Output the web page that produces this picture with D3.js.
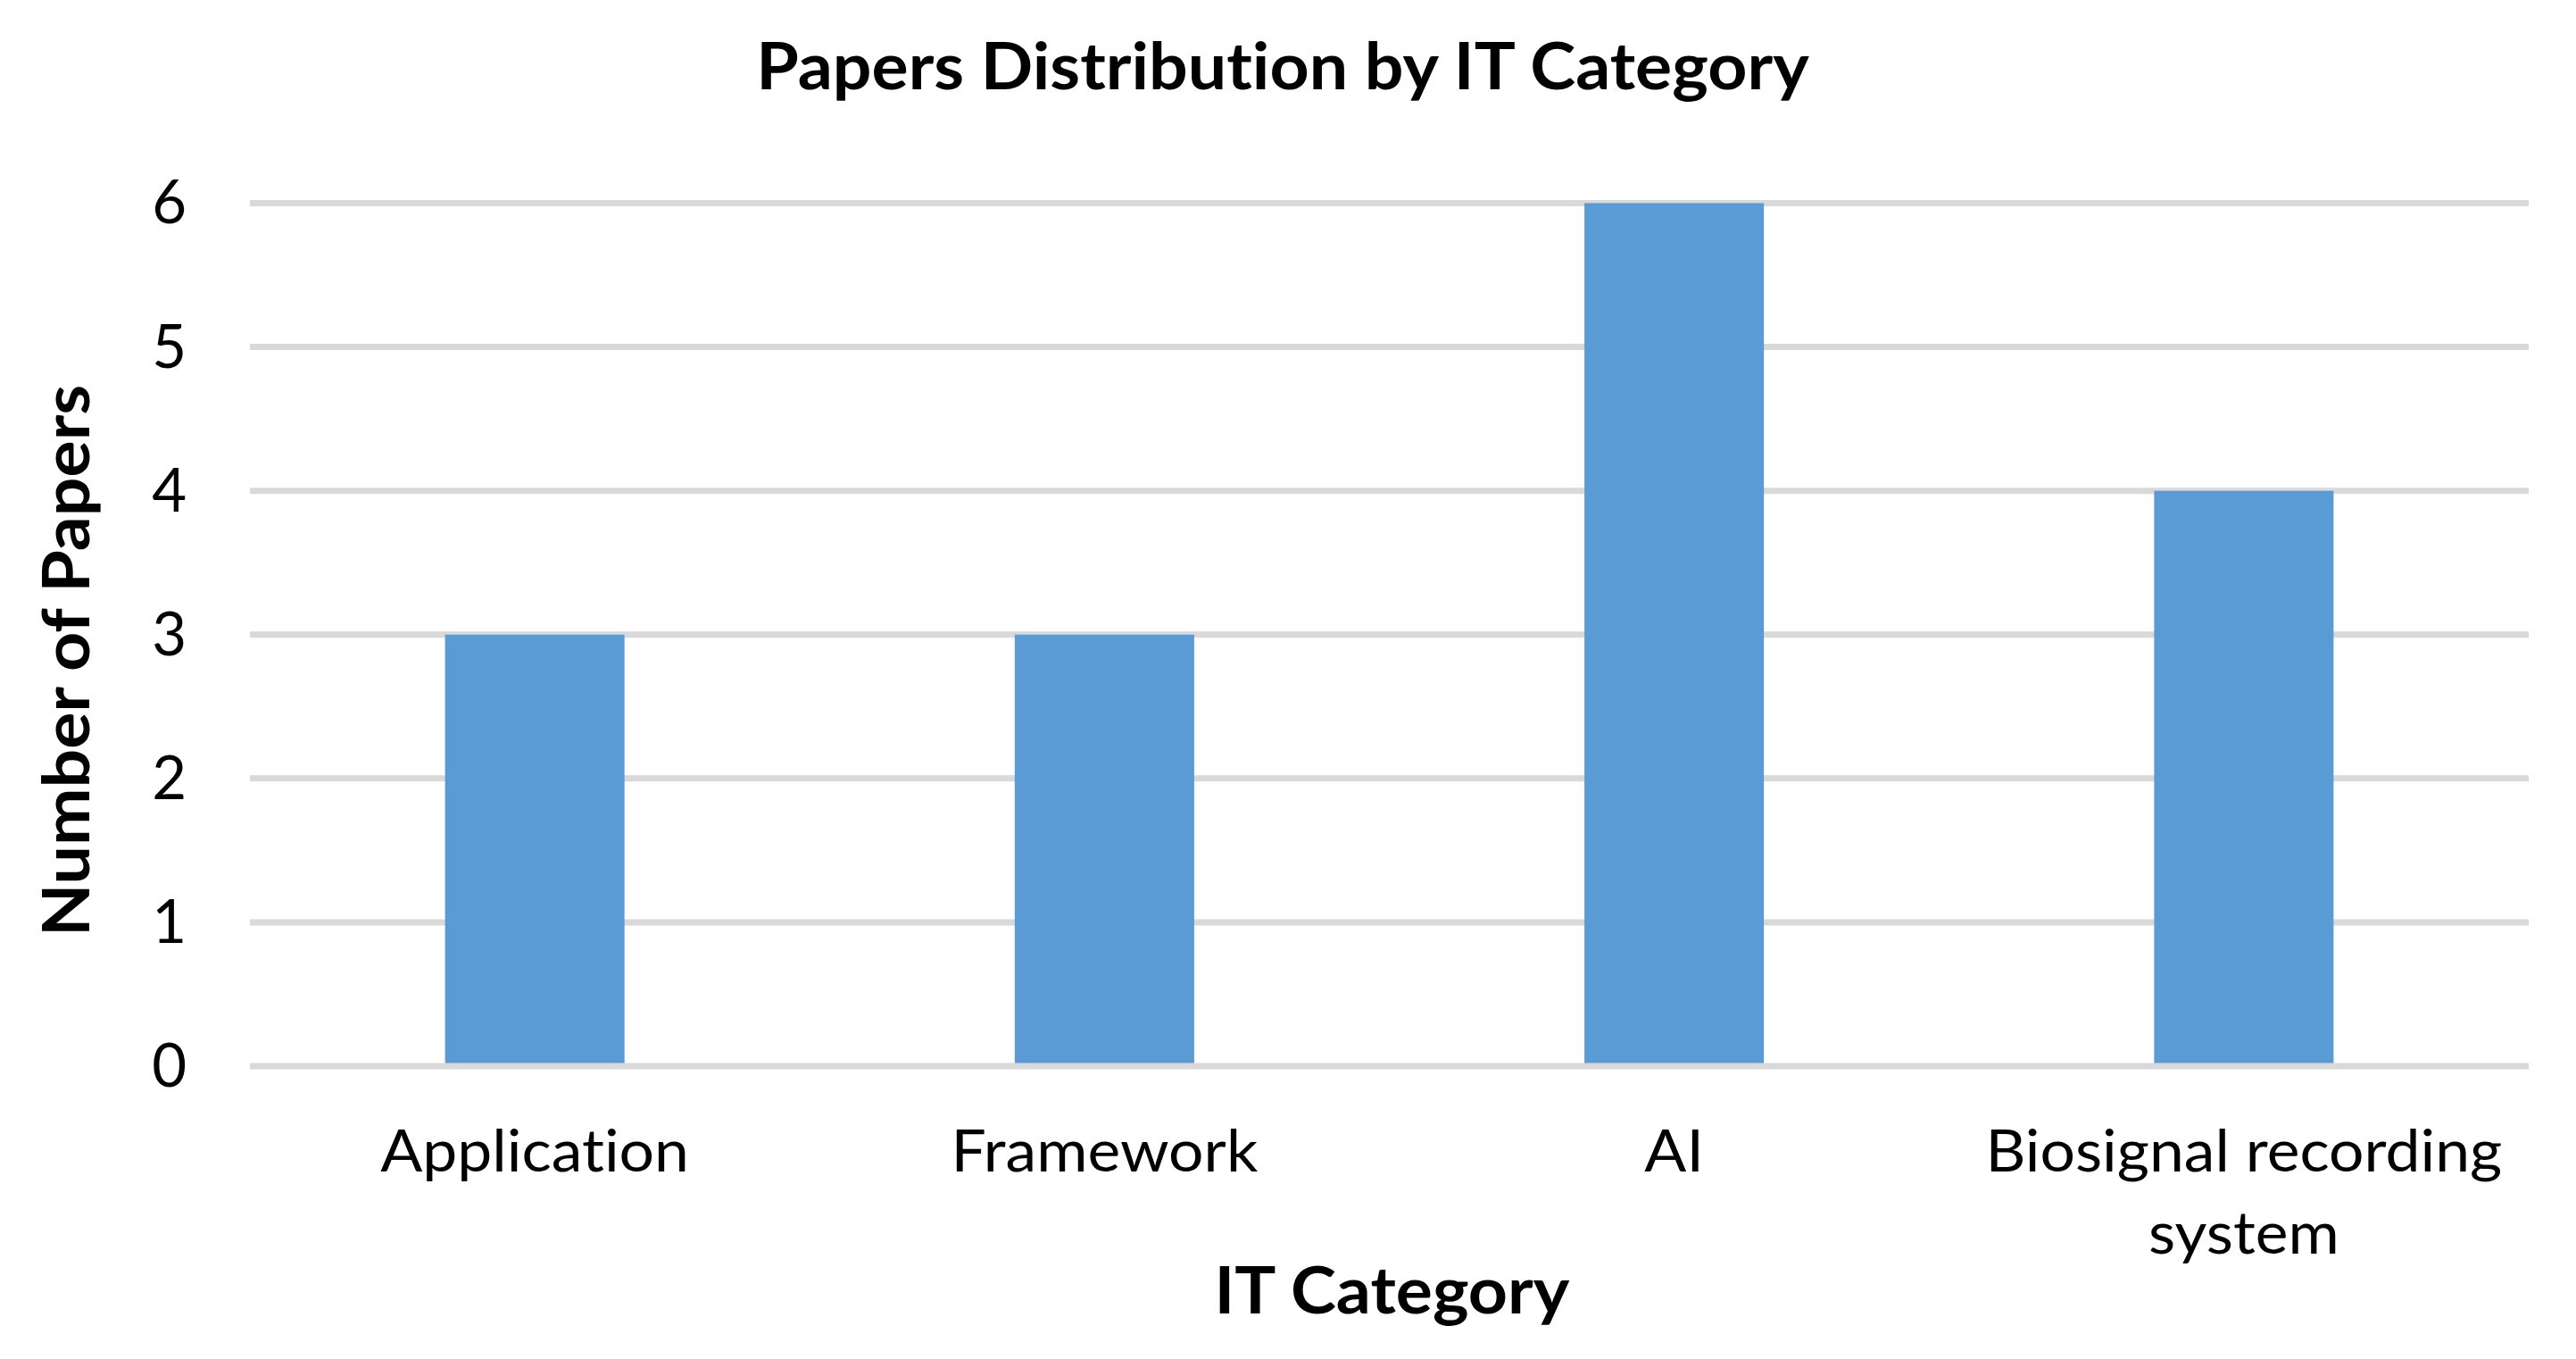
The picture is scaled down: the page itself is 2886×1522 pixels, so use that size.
<!DOCTYPE html>
<html>
<head>
<meta charset="utf-8">
<script src="https://cdn.jsdelivr.net/npm/d3@7"></script>
<style>
  html, body { margin: 0; padding: 0; background: #ffffff; }
  svg { display: block; }
  text { font-family: Lato, "Open Sans", sans-serif; fill: #000; font-variant-ligatures: none; font-feature-settings: "liga" 0, "clig" 0; }
</style>
</head>
<body>
<svg id="chart" width="2886" height="1522"></svg>
<script>
// ---- data ----
const categories = ["Application", "Framework", "AI", "Biosignal recording system"];
const categoryLines = [["Application"], ["Framework"], ["AI"], ["Biosignal recording", "system"]];
const paperCounts = [3, 3, 6, 4];
const yTicks = [0, 1, 2, 3, 4, 5, 6];
const chartTitle = "Papers Distribution by IT Category";
const xAxisTitle = "IT Category";
const yAxisTitle = "Number of Papers";

// ---- layout ----
const W = 2886, H = 1522;
const plot = { left: 280, right: 2833, top: 227.5, bottom: 1194 };
const widen = 1.055; // Lato is a little narrower than the original face
const svg = d3.select("#chart");
svg.append("rect").attr("width", W).attr("height", H).attr("fill", "#fff");

const x = d3.scaleBand().domain(categories).range([plot.left, plot.right])
  .paddingInner(0.685).paddingOuter(0.3425);
const y = d3.scaleLinear().domain([0, 6]).range([plot.bottom, plot.top]);

const gridColor = "#d9d9d9";
const gridW = 7;

function stretch(sel) {
  sel.each(function () {
    const w = this.getComputedTextLength();
    if (w > 0) d3.select(this).attr("textLength", w * widen).attr("lengthAdjust", "spacingAndGlyphs");
  });
}

// gridlines (behind bars), except zero line
svg.append("g").selectAll("line").data(yTicks.filter(d => d !== 0)).join("line")
  .attr("x1", plot.left).attr("x2", plot.right)
  .attr("y1", d => y(d)).attr("y2", d => y(d))
  .attr("stroke", gridColor).attr("stroke-width", gridW);

// bars
svg.append("g").selectAll("rect").data(categories).join("rect")
  .attr("x", d => x(d))
  .attr("width", x.bandwidth())
  .attr("y", (d, i) => y(paperCounts[i]))
  .attr("height", (d, i) => y(0) - y(paperCounts[i]))
  .attr("fill", "#5b9bd5");

// zero axis line on top
svg.append("line")
  .attr("x1", plot.left).attr("x2", plot.right)
  .attr("y1", y(0)).attr("y2", y(0))
  .attr("stroke", gridColor).attr("stroke-width", gridW);

// y tick labels via d3 axis
const yAxis = d3.axisLeft(y).tickValues(yTicks).tickFormat(d3.format("d")).tickSize(0).tickPadding(0);
const gy = svg.append("g").attr("transform", `translate(209,0)`).call(yAxis);
gy.select(".domain").remove();
gy.selectAll("text")
  .attr("x", 0).attr("dy", "0.335em")
  .style("font-family", "Lato, 'Open Sans', sans-serif")
  .style("font-size", "67px").attr("fill", "#000").attr("text-anchor", "end");

// x category labels
const gx = svg.append("g");
categories.forEach((c, i) => {
  const cx = x(c) + x.bandwidth() / 2;
  categoryLines[i].forEach((line, j) => {
    gx.append("text")
      .attr("x", cx)
      .attr("y", 1312 + j * 92)
      .attr("text-anchor", "middle")
      .style("font-size", "66px")
      .text(line)
      .call(stretch);
  });
});

// title
svg.append("text")
  .attr("x", 1437).attr("y", 100)
  .attr("text-anchor", "middle")
  .style("font-size", "73px").style("font-weight", "bold")
  .text(chartTitle).call(stretch);

// x axis title
svg.append("text")
  .attr("x", (plot.left + plot.right) / 2 + 3).attr("y", 1471)
  .attr("text-anchor", "middle")
  .style("font-size", "73px").style("font-weight", "bold")
  .text(xAxisTitle).call(stretch);

// y axis title
svg.append("text")
  .attr("transform", "translate(100,740) rotate(-90)")
  .attr("text-anchor", "middle")
  .style("font-size", "73px").style("font-weight", "bold")
  .text(yAxisTitle).call(stretch);
</script>
</body>
</html>
